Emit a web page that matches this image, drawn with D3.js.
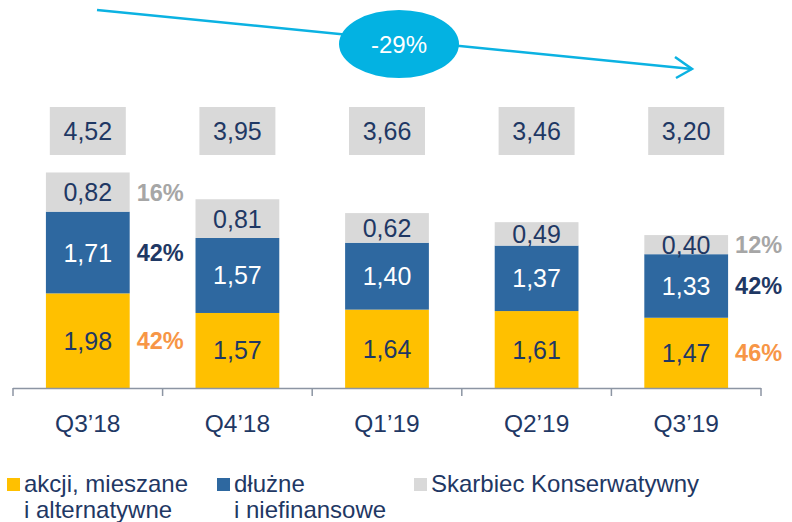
<!DOCTYPE html>
<html>
<head>
<meta charset="utf-8">
<script src="https://cdn.jsdelivr.net/npm/d3@7"></script>
<style>
  body { margin: 0; background: #fff; }
  svg { font-family: "Liberation Sans", Arial, sans-serif; }
</style>
</head>
<body>
<div id="chart"></div>
<script>
// Data
const quarters = ["Q3\u201918", "Q4\u201918", "Q1\u201919", "Q2\u201919", "Q3\u201919"];
const akcje    = [1.98, 1.57, 1.64, 1.61, 1.47];
const dluzne   = [1.71, 1.57, 1.40, 1.37, 1.33];
const skarbiec = [0.82, 0.81, 0.62, 0.49, 0.40];
const totals   = [4.52, 3.95, 3.66, 3.46, 3.20];
// shares shown next to the first and last bar only
const pctAkcje    = [42, null, null, null, 46];
const pctDluzne   = [42, null, null, null, 42];
const pctSkarbiec = [16, null, null, null, 12];
const changeLabel = "-29%";
const legendLabels = [["akcji, mieszane", "i alternatywne"], ["dłużne", "i niefinansowe"], ["Skarbiec Konserwatywny"]];

const W = 792, H = 522;
const navy = "#1f3864";
const colors = {akcje: "#ffc000", dluzne: "#2e68a0", skarbiec: "#d9d9d9"};
const pctColors = {akcje: "#f79646", dluzne: "#1f3864", skarbiec: "#a6a6a6"};
const fmt = v => d3.format(".2f")(v).replace(".", ",");

const svg = d3.select("#chart").append("svg")
    .attr("width", W)
    .attr("height", H);

// Scales
const x = d3.scaleBand().domain(quarters).range([13, 761])
    .paddingInner(0.44).paddingOuter(0.22);
const y = d3.scaleLinear().domain([0, 4.52]).range([388, 172]);

// Stack the three series
const keys = ["akcje", "dluzne", "skarbiec"];
const rows = quarters.map((q, i) => ({q: q, akcje: akcje[i], dluzne: dluzne[i], skarbiec: skarbiec[i],
    pct: {akcje: pctAkcje[i], dluzne: pctDluzne[i], skarbiec: pctSkarbiec[i]}}));
const series = d3.stack().keys(keys)(rows);

const layer = svg.selectAll(".serie")
    .data(series)
    .enter().append("g")
        .attr("class", "serie");

layer.selectAll("rect")
    .data(d => d.map(p => ({key: d.key, p: p})))
    .enter().append("rect")
        .attr("x", d => x(d.p.data.q))
        .attr("y", d => y(d.p[1]))
        .attr("width", x.bandwidth())
        .attr("height", d => y(d.p[0]) - y(d.p[1]))
        .attr("fill", d => colors[d.key]);

// Values inside segments
layer.selectAll("text.val")
    .data(d => d.map(p => ({key: d.key, p: p})))
    .enter().append("text")
        .attr("class", "val")
        .attr("x", d => x(d.p.data.q) + x.bandwidth() / 2)
        .attr("y", d => (y(d.p[0]) + y(d.p[1])) / 2)
        .attr("dy", "0.36em")
        .attr("text-anchor", "middle")
        .style("font-size", "25px")
        .attr("fill", d => d.key === "dluzne" ? "#fff" : navy)
        .text(d => fmt(d.p.data[d.key]));

// Share labels to the right of first/last bars
layer.selectAll("text.pct")
    .data(d => d.map(p => ({key: d.key, p: p})).filter(o => o.p.data.pct[o.key] != null))
    .enter().append("text")
        .attr("class", "pct")
        .attr("x", d => x(d.p.data.q) + x.bandwidth() + 7)
        .attr("y", d => (y(d.p[0]) + y(d.p[1])) / 2)
        .attr("dy", "0.36em")
        .style("font-size", "23.5px")
        .style("font-weight", "bold")
        .attr("fill", d => pctColors[d.key])
        .text(d => d.p.data.pct[d.key] + "%");

// Total boxes
const tot = svg.selectAll(".total")
    .data(quarters)
    .enter().append("g")
        .attr("class", "total")
        .attr("transform", d => "translate(" + (x(d) + x.bandwidth() / 2) + ",131)");
tot.append("rect")
    .attr("x", -38).attr("y", -24)
    .attr("width", 76).attr("height", 48)
    .attr("fill", "#d9d9d9");
tot.append("text")
    .attr("text-anchor", "middle")
    .attr("dy", "0.36em")
    .style("font-size", "25px")
    .attr("fill", navy)
    .text((d, i) => fmt(totals[i]));

// X axis: line, boundary ticks, labels
const axisColor = "#8c95a3";
const axisG = svg.append("g").attr("class", "x axis");
axisG.append("line")
    .attr("x1", x.range()[0]).attr("x2", x.range()[1])
    .attr("y1", 388.5).attr("y2", 388.5)
    .attr("stroke", axisColor).attr("stroke-width", 1.5);
const bounds = d3.range(quarters.length + 1).map(i => x.range()[0] + i * x.step());
axisG.selectAll(".tick")
    .data(bounds)
    .enter().append("line")
        .attr("x1", d => d).attr("x2", d => d)
        .attr("y1", 388).attr("y2", 396)
        .attr("stroke", axisColor).attr("stroke-width", 1.5);
axisG.selectAll("text")
    .data(quarters)
    .enter().append("text")
        .attr("x", d => x(d) + x.bandwidth() / 2)
        .attr("y", 432)
        .attr("text-anchor", "middle")
        .style("font-size", "24.5px")
        .attr("fill", navy)
        .text(d => d);

// Trend arrow with change bubble
const cyan = "#0bb2e2";
svg.append("line")
    .attr("x1", 97).attr("y1", 10)
    .attr("x2", 692).attr("y2", 69)
    .attr("stroke", cyan).attr("stroke-width", 2.5);
svg.append("path")
    .attr("d", "M675,57 L692,69 L676,78")
    .attr("fill", "none")
    .attr("stroke", cyan).attr("stroke-width", 2.5);
svg.append("ellipse")
    .attr("cx", 399).attr("cy", 44)
    .attr("rx", 60).attr("ry", 34)
    .attr("fill", "#03b2e2");
svg.append("text")
    .attr("x", 399).attr("y", 44)
    .attr("dy", "0.36em")
    .attr("text-anchor", "middle")
    .style("font-size", "24px")
    .attr("fill", "#fff")
    .text(changeLabel);

// Legend
const legendX = [7, 217, 414];
const legend = svg.selectAll(".legend")
    .data(keys)
    .enter().append("g")
        .attr("class", "legend")
        .attr("transform", (d, i) => "translate(" + legendX[i] + ",0)");
legend.append("rect")
    .attr("y", 478)
    .attr("width", 13).attr("height", 13)
    .attr("fill", d => colors[d]);
legend.append("text")
    .attr("x", 17)
    .style("font-size", "24px")
    .attr("fill", navy)
    .selectAll("tspan")
    .data((d, i) => legendLabels[i])
    .enter().append("tspan")
        .attr("x", 17)
        .attr("y", (d, i) => 492 + i * 26)
        .text(d => d);
</script>
</body>
</html>
